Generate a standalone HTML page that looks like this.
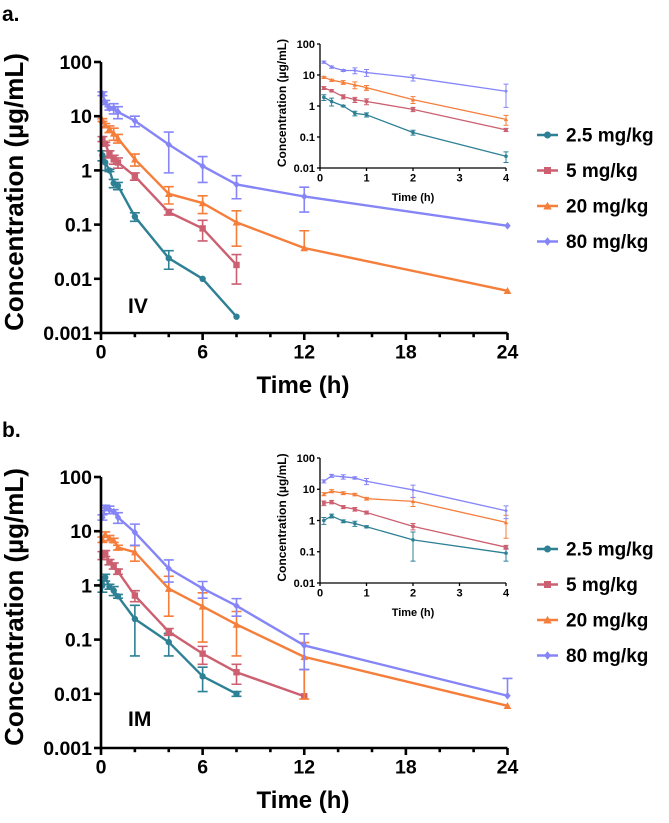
<!DOCTYPE html>
<html><head><meta charset="utf-8">
<style>
html,body{margin:0;padding:0;background:#fff;}
svg{display:block;font-family:"Liberation Sans",Arial,sans-serif;}
</style></head>
<body>
<svg id="fig" width="669" height="823" viewBox="0 0 669 823" xmlns="http://www.w3.org/2000/svg"></svg>
<script>
// ---- data ----
const seriesNames = ["2.5 mg/kg","5 mg/kg","20 mg/kg","80 mg/kg"];
const seriesColors = ["#2e8095","#cc6070","#f57e3a","#8585f7"];
const times = [0.083,0.25,0.5,0.75,1,2,4,6,8,12,24];
const yTickLabels = ["0.001","0.01","0.1","1","10","100"];
const xTickLabels = ["0","6","12","18","24"];
const insetXTickLabels = ["0","1","2","3","4"];
const insetYTickLabels = ["0.01","0.1","1","10","100"];
// IV means (null = not measured)
const iv25 = [1.9,1.4,1.0,0.58,0.52,0.14,0.024,0.01,0.002,null,null];
const iv5  = [3.8,3.1,2.0,1.6,1.4,0.78,0.17,0.085,0.018,null,null];
const iv20 = [8.5,6.8,5.8,4.8,3.9,1.6,0.37,0.25,0.11,0.037,0.006];
const iv80 = [26,18,14,14,12,8.2,3.0,1.2,0.55,0.33,0.095];
// IV SD
const ivSd25 = [0.4,0.4,0.05,0.1,0.08,0.025,0.009,0,0,0,0];
const ivSd5  = [0.4,0.2,0.3,0.3,0.3,0.12,0.02,0.035,0.01,0,0];
const ivSd20 = [0.5,0.5,0.8,1.2,0.7,0.4,0.13,0.09,0.07,0.04,0];
const ivSd80 = [2,1.5,1,3,3,1.8,2.1,0.6,0.25,0.16,0];
// IM means
const im25 = [1.0,1.4,0.95,0.8,0.63,0.24,0.09,0.021,0.01,null,null];
const im5  = [3.6,3.9,2.7,2.3,1.8,0.65,0.14,0.055,0.025,0.009,null];
const im20 = [7,8.7,7.5,6.8,5.0,4.1,0.87,0.41,0.19,0.048,0.006];
const im80 = [18,27,25,23,18,9.5,2.05,0.88,0.42,0.078,0.0092];
// IM SD
const imSd25 = [0.25,0.2,0.1,0.15,0.05,0.19,0.04,0.01,0.001,0,0];
const imSd5  = [0.6,0.5,0.3,0.3,0.2,0.15,0.02,0.02,0.01,0.019,0];
const imSd20 = [0.8,1,0.8,0.6,0.5,1.3,0.6,0.32,0.14,0.04,0];
const imSd80 = [2,3,4,2,4,4,0.9,0.3,0.15,0.05,0.01];

const NS="http://www.w3.org/2000/svg";
const svg=document.getElementById('fig');
function mk(tag,attrs,parent){const e=document.createElementNS(NS,tag);for(const k in attrs)e.setAttribute(k,attrs[k]);(parent||svg).appendChild(e);return e;}
function txt(s,attrs,parent){const e=mk('text',attrs,parent);e.textContent=s;return e;}

function marker(g,i,x,y,r,c){
  let m;
  if(i===0){m=mk('circle',{cx:x,cy:y,r:r,fill:c},g);}
  else if(i===1){m=mk('rect',{x:x-r,y:y-r,width:2*r,height:2*r,fill:c},g);}
  else if(i===2){m=mk('polygon',{points:`${x},${y-r*1.2} ${x-r*1.2},${y+r} ${x+r*1.2},${y+r}`,fill:c},g);}
  else {m=mk('polygon',{points:`${x},${y-r*1.2} ${x+r},${y} ${x},${y+r*1.2} ${x-r},${y}`,fill:c},g);}
  
  
}

function drawPlot(o){
  const g=mk('g',{});
  
  
  const X=t=>o.x0+(t-0)/(o.xmax)*(o.x1-o.x0);
  const Y=v=>o.yTop+(o.logMax-Math.log10(v))/(o.logMax-o.logMin)*(o.yBot-o.yTop);
  const tm = o.tmax;
  const sw=o.lw;
  o.means.forEach((arr,si)=>{
    const c=seriesColors[si];
    const sg=mk('g',{},g);
    
    
    let pts=[];
    arr.forEach((v,k)=>{ if(v!==null && times[k]<=tm) pts.push([X(times[k]),Y(v),v,o.sds[si][k]]); });
    const pl=mk('polyline',{points:pts.map(p=>p[0]+','+p[1]).join(' '),fill:'none',stroke:c,'stroke-width':sw,'stroke-linejoin':'round'},sg);
    
    
    pts.forEach(p=>{
      const v=p[2],sd=p[3];
      if(sd>0){
        const up=Y(v+sd); const lowV=v-sd;
        const ylo = lowV>0?Y(lowV):Y(v);
        const eb=mk('path',{d:`M${p[0]},${up}V${ylo} M${p[0]-o.cap},${up}H${p[0]+o.cap} ${lowV>0?`M${p[0]-o.cap},${ylo}H${p[0]+o.cap}`:''}`,stroke:c,'stroke-width':o.ew,fill:'none'},sg);
        
        
      }
      marker(sg,si,p[0],p[1],o.mr,c);
    });
  });
  const ax=mk('path',{d:`M${o.x0},${o.yTop}V${o.yBot}H${o.x1}`,stroke:'#000','stroke-width':o.aw,fill:'none'},g);
  
  
  o.yLabels.forEach((lab,k)=>{
    const y=Y(Math.pow(10,o.logMin+k));
    mk('line',{x1:o.x0-o.tick,x2:o.x0,y1:y,y2:y,stroke:'#000','stroke-width':o.aw},g);
    const t=txt(lab,{x:o.x0-o.tick-2,y:y+o.yfs*0.36,'font-size':o.yfs,'font-weight':'bold','text-anchor':'end'},g);
    
    
  });
  for(let t=0;t<=o.xmax+1e-9;t+=o.minor){
    const x=X(t); const major=Math.abs(t/o.major-Math.round(t/o.major))<1e-6;
    mk('line',{x1:x,x2:x,y1:o.yBot,y2:o.yBot+(major?o.tick:o.tick*0.6),stroke:'#000','stroke-width':o.aw},g);
  }
  o.xLabels.forEach((lab,k)=>{
    const x=X(k*o.major);
    const t=txt(lab,{x:x,y:o.yBot+o.tick+o.xfs*0.95,'font-size':o.xfs,'font-weight':'bold','text-anchor':'middle'},g);
    
    
  });
  const xt=txt('Time (h)',{x:o.xtX,y:o.xtY,'font-size':o.xtfs,'font-weight':'bold','text-anchor':'middle'},g);
  
  
  const yt=txt('Concentration (µg/mL)',{x:0,y:0,'font-size':o.ytfs,'font-weight':'bold','text-anchor':'middle',transform:`translate(${o.ytX},${o.ytY}) rotate(-90)`},g);
  
  
}

function legend(y0,name){
  const g=mk('g',{});
  
  
  seriesNames.forEach((n,i)=>{
    const y=y0+i*35.5;
    const e=mk('g',{},g);
    
    
    mk('line',{x1:537,x2:558,y1:y,y2:y,stroke:seriesColors[i],'stroke-width':2.5},e);
    marker(e,i,547.5,y,3.5,seriesColors[i]);
    txt(n,{x:566,y:y+6.5,'font-size':19,'font-weight':'bold'},e);
  });
}

function panel(pfx,means,sds,label,labelY,off,legY,insetTop,insetBot){
  drawPlot({name:pfx+'-main-chart',x0:101,x1:507.5,xmax:24,tmax:24,yTop:62+off,yBot:333+off,logMax:2,logMin:-3,
    means:means,sds:sds,lw:2.4,ew:1.6,cap:5,mr:3.2,aw:2.6,tick:7,yfs:19.5,xfs:19.5,major:6,minor:2,
    yLabels:yTickLabels,xLabels:xTickLabels,xtX:303,xtY:393+off,xtfs:24,ytX:23,ytY:192+off,ytfs:26});
  drawPlot({name:pfx+'-inset-chart',x0:320,x1:506,xmax:4,tmax:4,yTop:insetTop,yBot:insetBot,logMax:2,logMin:-2,
    means:means,sds:sds,lw:1.3,ew:1,cap:2.5,mr:1.8,aw:1.3,tick:3,yfs:11,xfs:11,major:1,minor:1,
    yLabels:insetYTickLabels,xLabels:insetXTickLabels,xtX:413,xtY:insetBot+33,xtfs:11,ytX:286,ytY:(insetTop+insetBot)/2-3,ytfs:12});
  const t=txt(label,{x:128,y:labelY,'font-size':21,'font-weight':'bold'});
  
  
  legend(legY,pfx+'-legend');
}

const la=txt('a.',{x:2,y:21,'font-size':21,'font-weight':'bold'});


const lb=txt('b.',{x:2,y:437,'font-size':21,'font-weight':'bold'});



panel('iv',[iv25,iv5,iv20,iv80],[ivSd25,ivSd5,ivSd20,ivSd80],'IV',313,0,135,44,168);
panel('im',[im25,im5,im20,im80],[imSd25,imSd5,imSd20,imSd80],'IM',726,415,549,458,583);
</script>
</body></html>
